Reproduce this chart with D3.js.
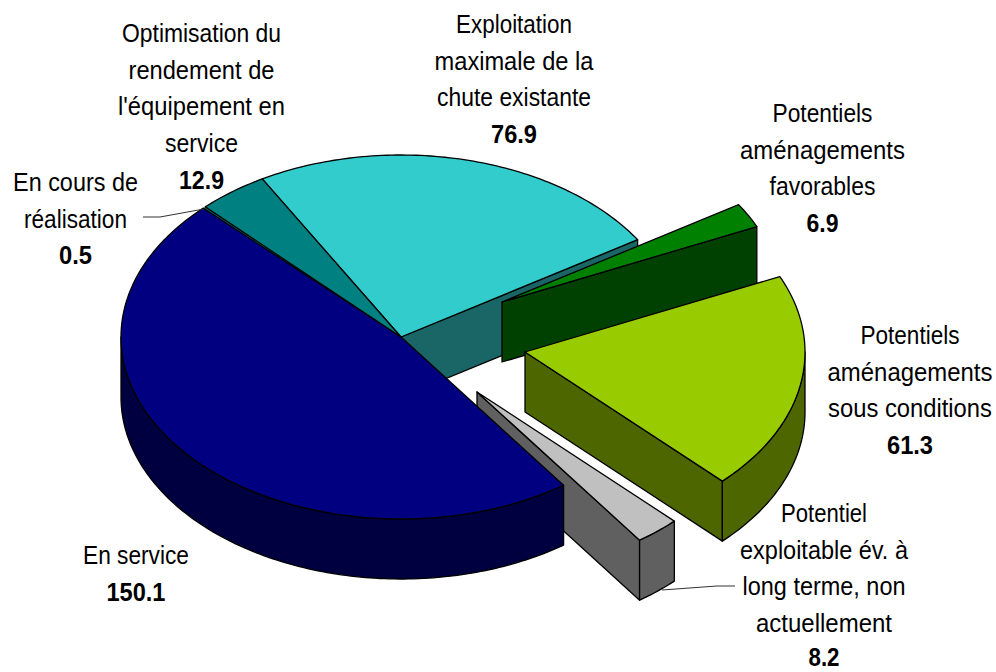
<!DOCTYPE html>
<html><head><meta charset="utf-8">
<script src="https://cdn.jsdelivr.net/npm/d3@7"></script>
<style>html,body{margin:0;padding:0;background:#fff}svg{display:block}</style>
</head><body><svg id="c" width="996" height="672"></svg>
<script>
const categories=["En service","En cours de réalisation","Optimisation du rendement de l'équipement en service","Exploitation maximale de la chute existante","Potentiels aménagements favorables","Potentiels aménagements sous conditions","Potentiel exploitable év. à long terme, non actuellement"];
const values=[150.1,0.5,12.9,76.9,6.9,61.3,8.2];
const valueLabels=["150.1","0.5","12.9","76.9","6.9","61.3","8.2"];
const labelLines=[["En service"],["En cours de","réalisation"],["Optimisation du","rendement de","l'équipement en","service"],["Exploitation","maximale de la","chute existante"],["Potentiels","aménagements","favorables"],["Potentiels","aménagements","sous conditions"],["Potentiel","exploitable év. à","long terme, non","actuellement"]];

// styling and layout
const topColors=["#000080","#008080","#008080","#33CCCC","#008000","#99CC00","#C0C0C0"];
const wallColors=["#000040","#004040","#004040","#1A6666","#004000","#4D6600","#606060"];
const offsets=[[0,0],[0,0],[0,0],[0,0],[101,-35],[124,15],[76,55]];
const labelPos=[[136,564],[75.5,191],[201.5,42],[514,33],[822.5,122],[910,344],[824,522]];
const lineWidths=[[106,59],[125,103,33],[159,146,167,73,45],[116,159,154,46],[100,165,106,32],[99,165,164,46],[86,168,163,136,31]];
const drawOrder=[6,3,1,0,2,4,5];
const cx=401,cy=337,R=280,Ry=182,depth=60,lineH=36.7,fontSize=26,pageH=672;

const sx=d3.scaleLinear().domain([-1,1]).range([cx-R,cx+R]);
const sy=d3.scaleLinear().domain([-1,1]).range([cy+Ry,cy-Ry]);
const rad=d=>d*Math.PI/180;
const TAU=2*Math.PI;
const arcs=d3.pie().sort(null).startAngle(rad(144.5)).endAngle(rad(144.5+360))(values)
  .map(a=>a.startAngle>=TAU?{...a,startAngle:a.startAngle-TAU,endAngle:a.endAngle-TAU}:a);
const P=(a,o,dz=0)=>[sx(Math.sin(a))+o[0],sy(Math.cos(a))+o[1]+dz];
const arcPts=(a0,a1,o,dz=0)=>{const n=Math.max(2,Math.ceil(Math.abs(a1-a0)/rad(1)));return d3.range(n+1).map(i=>P(a0+(a1-a0)*i/n,o,dz));};
const line=d3.line();
const svg=d3.select("#c");
function poly(g,pts,fill,outlined=true){
  const p=g.append("path").attr("d",line(pts)+"Z").attr("fill",fill);
  if(outlined)p.attr("stroke","#000").attr("stroke-width",1.3).attr("stroke-linejoin","round");
}

drawOrder.forEach(i=>{
  const a=arcs[i],o=offsets[i],g=svg.append("g");
  const c=[sx(0)+o[0],sy(0)+o[1]];
  const outlined=i!==1;
  // radial cut face on the clockwise end of the slice
  const nEnd=a.endAngle%TAU;
  if(nEnd>0&&nEnd<Math.PI&&i>=3){
    const e=P(a.endAngle,o);
    poly(g,[c,e,[e[0],e[1]+depth],[c[0],c[1]+depth]],wallColors[i]);
  }
  // outer wall, only the part facing the viewer (90..270 degrees)
  const lo=Math.max(a.startAngle,rad(90)),hi=Math.min(a.endAngle,rad(270));
  if(hi>lo){
    poly(g,[...arcPts(lo,hi,o),...arcPts(hi,lo,o,depth)],wallColors[i]);
  }
  // top surface
  poly(g,[c,...arcPts(a.startAngle,a.endAngle,o)],topColors[i],outlined);
});

// leader lines
const leaders=[[[143,217],[160,217],[204,209]],[[662,590],[717,586],[735,586]]];
svg.selectAll("path.leader").data(leaders).join("path").attr("class","leader")
  .attr("d",line).attr("fill","none").attr("stroke","#333").attr("stroke-width",1);

// labels: tall glyphs condensed horizontally to the reference's line widths
const font="'Liberation Sans',Arial,sans-serif";
const maxBaseline=pageH-fontSize*0.215;
labelLines.forEach((lines,i)=>{
  const all=[...lines,valueLabels[i]];
  svg.append("g").selectAll("text").data(all).join("text")
    .attr("text-anchor","middle").attr("font-family",font).attr("font-size",fontSize).attr("fill","#000")
    .attr("font-weight",(d,j)=>j===lines.length?"bold":"normal")
    .text(d=>d)
    .attr("transform",function(d,j){
      const y=Math.min(labelPos[i][1]+j*lineH,maxBaseline);
      const k=lineWidths[i][j]/this.getComputedTextLength();
      return `translate(${labelPos[i][0]},${y}) scale(${k},1)`;
    });
});
</script></body></html>
